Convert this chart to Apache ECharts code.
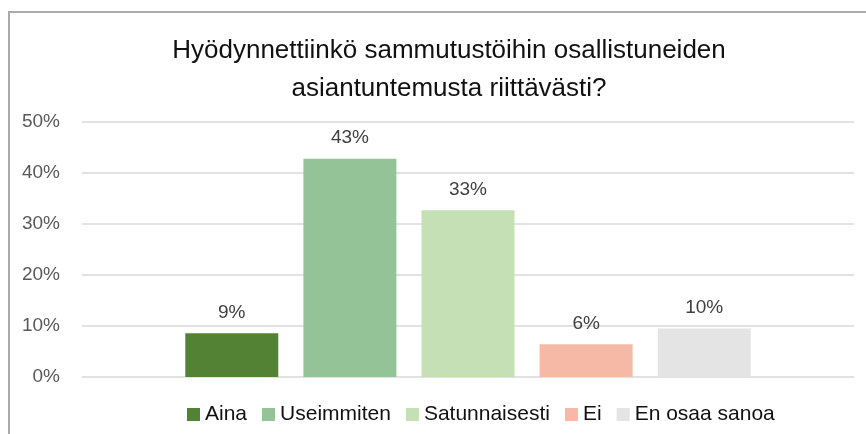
<!DOCTYPE html>
<html>
<head>
<meta charset="utf-8">
<script src="https://cdn.jsdelivr.net/npm/echarts@6/dist/echarts.min.js"></script>
<style>
  html, body { margin: 0; padding: 0; background: #fff; }
  #chart { width: 866px; height: 434px; }
</style>
</head>
<body>
<div id="chart"></div>
<script>
// vastausvaihtoehdot ja osuudet (%)
const answers = ["Aina", "Useimmiten", "Satunnaisesti", "Ei", "En osaa sanoa"];
const shares = [8.6, 42.8, 32.7, 6.4, 9.5];
const colors = ["#548235", "#93C396", "#C5E0B4", "#F5B9A6", "#E4E4E4"];
const yTicks = [0, 10, 20, 30, 40, 50];

const font = "Liberation Sans";

let chart = echarts.init(document.getElementById("chart"));

let series = answers.map((name, i) => ({
  name: name,
  type: "bar",
  data: [shares[i]],
  barWidth: 93,
  barGap: "27%",
  itemStyle: { color: colors[i] },
  label: {
    show: true,
    position: "top",
    distance: 11,
    color: "#404040",
    fontFamily: font,
    fontSize: 19,
    formatter: (p) => Math.round(p.value) + "%",
  },
}));

let option = {
  animation: false,
  title: {
    text: "Hyödynnettiinkö sammutustöihin osallistuneiden\nasiantuntemusta riittävästi?",
    left: 444,
    top: 27,
    textAlign: "center",
    textStyle: {
      fontFamily: font,
      fontSize: 26,
      fontWeight: "normal",
      color: "#111111",
      lineHeight: 38,
    },
  },
  legend: {
    top: 399,
    left: 182,
    itemWidth: 13,
    itemHeight: 13,
    itemGap: 15,
    icon: "rect",
    textStyle: { fontFamily: font, fontSize: 21, color: "#111111" },
    data: answers,
  },
  grid: { left: 82, right: 12, top: 122, bottom: 57 },
  xAxis: {
    type: "category",
    data: [""],
    axisLine: { show: false },
    axisTick: { show: false },
    axisLabel: { show: false },
  },
  yAxis: {
    type: "value",
    min: yTicks[0],
    max: yTicks[yTicks.length - 1],
    interval: 10,
    axisLine: { show: false },
    axisTick: { show: false },
    splitLine: { lineStyle: { color: "#D9D9D9", width: 1.5 } },
    axisLabel: {
      color: "#595959",
      fontFamily: font,
      fontSize: 19,
      margin: 22,
      formatter: (v) => v + "%",
    },
  },
  graphic: [
    {
      type: "polyline",
      shape: { points: [[9, 434], [9, 12], [866, 12]] },
      style: { stroke: "#ABABAB", lineWidth: 2, fill: null },
      silent: true,
    },
  ],
  series: series,
};

chart.setOption(option);
</script>
</body>
</html>
